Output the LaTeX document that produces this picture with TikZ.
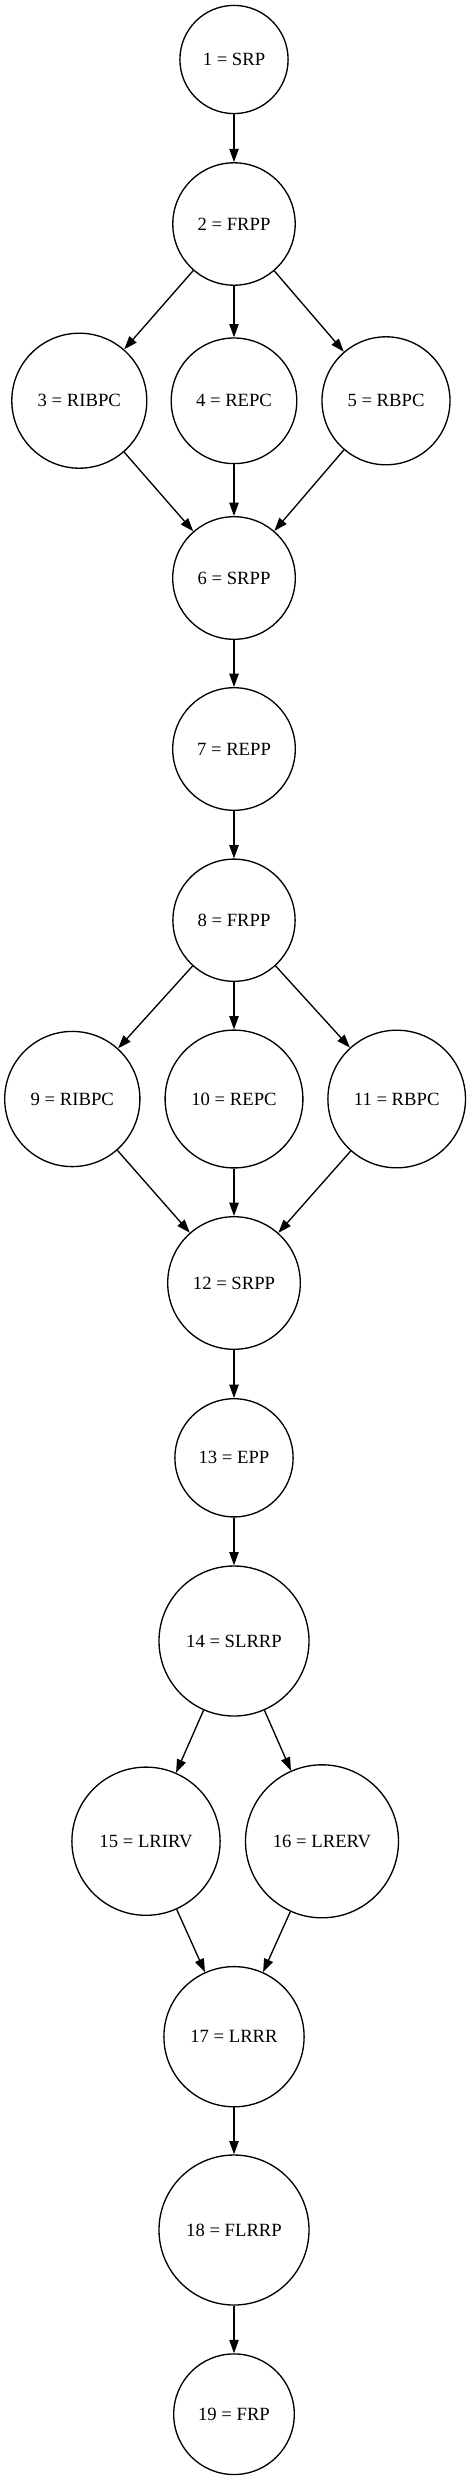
\documentclass[tikz,border=0pt]{standalone}
\usepackage{fontspec}
\setmainfont{Liberation Serif}
\usetikzlibrary{arrows.meta}
\tikzset{
  nd/.style={circle, draw, line width=1pt, inner sep=0pt, font=\fontsize{14}{16}\selectfont},
  edge/.style={line width=1pt, -{Triangle[length=10pt,width=7pt]}}
}
\begin{document}
\begin{tikzpicture}[x=0.75pt,y=-0.75pt]
\useasboundingbox (0,0) rectangle (472,2481);
\node[nd, minimum size=81.15pt] (n1) at (234,59.5) {1 = SRP};
\node[nd, minimum size=91.8pt] (n2) at (234,224) {2 = FRPP};
\node[nd, minimum size=101.25pt] (n3) at (79.3,400.7) {3 = RIBPC};
\node[nd, minimum size=94.2pt] (n4) at (234,400.8) {4 = REPC};
\node[nd, minimum size=96pt] (n5) at (386,400.8) {5 = RBPC};
\node[nd, minimum size=91.95pt] (n6) at (234,578) {6 = SRPP};
\node[nd, minimum size=91.95pt] (n7) at (234,749) {7 = REPP};
\node[nd, minimum size=91.65pt] (n8) at (234,920.2) {8 = FRPP};
\node[nd, minimum size=101.4pt] (n9) at (72.3,1099) {9 = RIBPC};
\node[nd, minimum size=103.35pt] (n10) at (234,1099) {10 = REPC};
\node[nd, minimum size=103.2pt] (n11) at (396.7,1099) {11 = RBPC};
\node[nd, minimum size=99.45pt] (n12) at (234,1283) {12 = SRPP};
\node[nd, minimum size=88.65pt] (n13) at (234,1457.8) {13 = EPP};
\node[nd, minimum size=112.5pt] (n14) at (234,1641) {14 = SLRRP};
\node[nd, minimum size=111.15pt] (n15) at (146,1841.2) {15 = LRIRV};
\node[nd, minimum size=114.75pt] (n16) at (322,1841.3) {16 = LRERV};
\node[nd, minimum size=105.15pt] (n17) at (234,2036.7) {17 = LRRR};
\node[nd, minimum size=112.5pt] (n18) at (234,2230) {18 = FLRRP};
\node[nd, minimum size=90.45pt] (n19) at (234,2414.2) {19 = FRP};
\draw[edge] (n1) -- (n2);
\draw[edge] (n2) -- (n3);
\draw[edge] (n2) -- (n4);
\draw[edge] (n2) -- (n5);
\draw[edge] (n3) -- (n6);
\draw[edge] (n4) -- (n6);
\draw[edge] (n5) -- (n6);
\draw[edge] (n6) -- (n7);
\draw[edge] (n7) -- (n8);
\draw[edge] (n8) -- (n9);
\draw[edge] (n8) -- (n10);
\draw[edge] (n8) -- (n11);
\draw[edge] (n9) -- (n12);
\draw[edge] (n10) -- (n12);
\draw[edge] (n11) -- (n12);
\draw[edge] (n12) -- (n13);
\draw[edge] (n13) -- (n14);
\draw[edge] (n14) -- (n15);
\draw[edge] (n14) -- (n16);
\draw[edge] (n15) -- (n17);
\draw[edge] (n16) -- (n17);
\draw[edge] (n17) -- (n18);
\draw[edge] (n18) -- (n19);
\end{tikzpicture}
\end{document}
